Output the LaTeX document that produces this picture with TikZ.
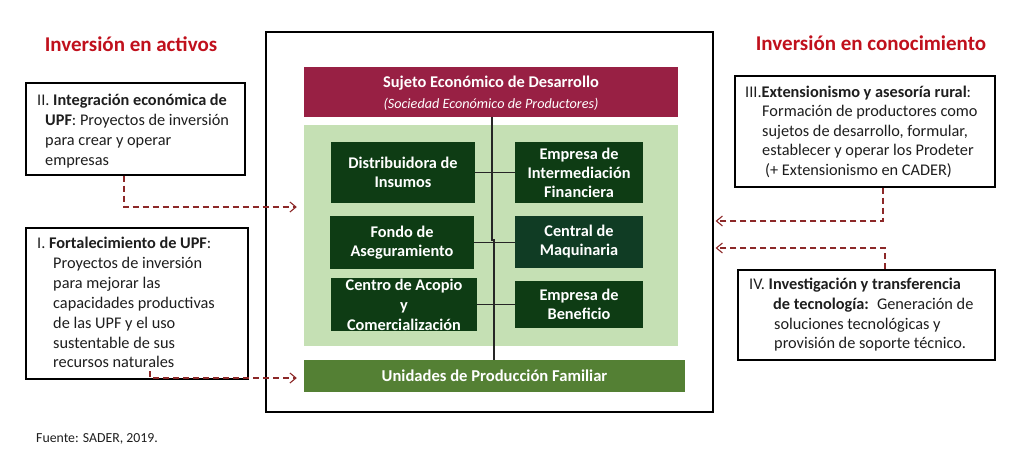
\documentclass[tikz,border=0pt]{standalone}
\usepackage{fontspec}
\setmainfont{Carlito}
\usetikzlibrary{arrows.meta}
\definecolor{titlered}{RGB}{192,16,28}
\definecolor{arrowred}{RGB}{140,40,40}
\definecolor{maroon}{RGB}{152,32,68}
\definecolor{lightgreen}{RGB}{197,224,180}
\definecolor{darkgreen}{RGB}{14,60,20}
\definecolor{darkteal}{RGB}{16,60,36}
\definecolor{midgreen}{RGB}{84,128,52}
\definecolor{bodytext}{RGB}{30,30,30}
\tikzset{
  x=1pt, y=-1pt,
  sidebox/.style={draw=black, line width=1.2pt, fill=white, inner sep=0pt},
  ln/.style={anchor=base west, inner sep=0pt, text=bodytext, font=\fontsize{16.3}{19}\selectfont},
  titletext/.style={inner sep=0pt, text=titlered, font=\bfseries\fontsize{21}{24}\selectfont},
  dbox/.style={fill=darkgreen, text=white, align=center, inner sep=0pt,
    font=\bfseries\fontsize{16.3}{19}\selectfont},
  conn/.style={draw=black!85, line width=1.3pt},
  dasharrow/.style={draw=arrowred, line width=1.1pt, dash pattern=on 6pt off 4pt,
    -{Straight Barb[length=6pt,width=10pt,line width=1.1pt]}},
}
\begin{document}
\begin{tikzpicture}
\useasboundingbox (0,0) rectangle (1023,461);

% titles
\node[titletext] (tleft) at (131,44) {Inversión en activos};
\node[titletext] (tright) at (871,43) {Inversión en conocimiento};

% main frame
\node[draw=black, line width=1.2pt, minimum width=447pt, minimum height=380pt, inner sep=0pt] (frame) at (489.5,222) {};

% maroon box
\node[fill=maroon, minimum width=374pt, minimum height=50pt, inner sep=0pt] (sed) at (491,92) {};
\node[inner sep=0pt, text=white, font=\bfseries\fontsize{16.4}{18}\selectfont] (sedt) at (491,83) {Sujeto Económico de Desarrollo};
\node[inner sep=0pt, text=white, font=\itshape\fontsize{14.2}{16}\selectfont] (sedst) at (491,104) {(Sociedad Económico de Productores)};

% light green panel
\node[fill=lightgreen, minimum width=374pt, minimum height=221pt, inner sep=0pt] (panel) at (491,235.5) {};

% Unidades
\node[fill=midgreen, minimum width=381pt, minimum height=32pt, inner sep=0pt, text=white,
  font=\bfseries\fontsize{16.6}{18}\selectfont] (upf) at (494.5,376) {Unidades de Producción Familiar};

% dark green boxes
\node[dbox, minimum width=144pt, minimum height=61pt] (dist) at (403,172.5) {Distribuidora de\\Insumos};
\node[dbox, minimum width=128pt, minimum height=61pt] (emp) at (579,172.5) {Empresa de\\Intermediación\\Financiera};
\node[dbox, minimum width=144pt, minimum height=53pt] (fondo) at (402,242.5) {Fondo de\\Aseguramiento};
\node[dbox, fill=darkteal, minimum width=128pt, minimum height=52pt] (central) at (579,242) {Central de\\Maquinaria};
\node[dbox, minimum width=146pt, minimum height=53pt, font=\bfseries\fontsize{16.3}{20}\selectfont] (acopio) at (404,304.5) {Centro de Acopio\\y\\Comercialización};
\node[dbox, minimum width=128pt, minimum height=47pt] (benef) at (579,304.5) {Empresa de\\Beneficio};

% connectors
\coordinate (j1) at (492,240);
\coordinate (j2) at (494,240);
\draw[conn] (sed.south -| j1) -- (j1) -- (j2) -- (upf.north -| j2);
\draw[conn] (dist.east) -- (dist.east -| emp.west);
\draw[conn] (fondo.east) -- (fondo.east -| central.west);
\draw[conn] (acopio.east) -- (acopio.east -| benef.west);

% left boxes
\node[sidebox, minimum width=219pt, minimum height=92pt] (b2) at (135.5,129) {};
\node[ln] (b2l1) at (37,105) {II. \textbf{Integración económica de}};
\node[ln] (b2l2) at (45,125) {\textbf{UPF}: Proyectos de inversión};
\node[ln] (b2l3) at (45,145) {para crear y operar};
\node[ln] (b2l4) at (45,165) {empresas};

\node[sidebox, minimum width=222pt, minimum height=151pt] (b1) at (137,303.5) {};
\node[ln] (b1l1) at (37,248) {I. \textbf{Fortalecimiento de UPF}:};
\node[ln] (b1l2) at (53,268) {Proyectos de inversión};
\node[ln] (b1l3) at (53,288) {para mejorar las};
\node[ln] (b1l4) at (53,308) {capacidades productivas};
\node[ln] (b1l5) at (53,328) {de las UPF y el uso};
\node[ln] (b1l6) at (53,348) {sustentable de sus};
\node[ln] (b1l7) at (53,367) {recursos naturales};

% right boxes
\node[sidebox, minimum width=260pt, minimum height=111pt] (b3) at (865,131.5) {};
\node[ln] (b3l1) at (745,97) {III.\textbf{Extensionismo y asesoría rural}:};
\node[ln] (b3l2) at (762,116.5) {Formación de productores como};
\node[ln] (b3l3) at (762,136) {sujetos de desarrollo, formular,};
\node[ln] (b3l4) at (762,155.5) {establecer y operar los Prodeter};
\node[ln] (b3l5) at (765,175) {(+ Extensionismo en CADER)};

\node[sidebox, minimum width=257pt, minimum height=90pt] (b4) at (866.5,315) {};
\node[ln] (b4l1) at (749,289) {IV. \textbf{Investigación y transferencia}};
\node[ln] (b4l2) at (773,309) {\textbf{de tecnología:}\enspace Generación de};
\node[ln] (b4l3) at (774,329) {soluciones tecnológicas y};
\node[ln] (b4l4) at (774,348) {provisión de soporte técnico.};

% dashed arrows
\coordinate (a2) at (124,207);
\draw[dasharrow, shorten >=7pt] (b2.south -| a2) -- (a2) -- (a2 -| panel.west);
\coordinate (s1) at (150,371);
\coordinate (a1) at (150,378);
\draw[dasharrow, shorten >=7pt] (s1) -- (a1) -- (a1 -| upf.west);
\coordinate (a3) at (883,221);
\draw[dasharrow, shorten >=2pt] (b3.south -| a3) -- (a3) -- (a3 -| frame.east);
\coordinate (a4) at (885,248);
\draw[dasharrow, shorten >=2pt] (b4.north -| a4) -- (a4) -- (a4 -| frame.east);

% source
\node[anchor=base west, inner sep=0pt, text=bodytext, font=\fontsize{13.8}{15}\selectfont] (src) at (36,442) {Fuente: SADER, 2019.};
\end{tikzpicture}
\end{document}
